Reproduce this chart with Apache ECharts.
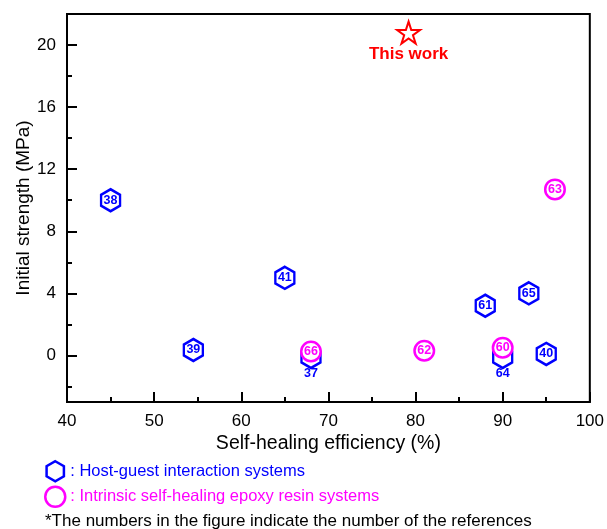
<!DOCTYPE html>
<html>
<head>
<meta charset="utf-8">
<script src="https://cdn.jsdelivr.net/npm/echarts@6/dist/echarts.min.js"></script>
<style>
  html, body { margin: 0; padding: 0; background: #fff; }
  #chart { width: 607px; height: 529px; }
</style>
</head>
<body>
<div id="chart"></div>
<script>
// host-guest interaction systems (hexagons)
var hostX = [45, 54.5, 65, 68, 88, 93, 90, 95];
var hostY = [10, 0.35, 5, -0.1, 3.2, 4, -0.1, 0.1];
var hostRefs = ['38', '39', '41', '37', '61', '65', '64', '40'];
var hostLabelBelow = ['37', '64'];

// intrinsic self-healing epoxy resin systems (circles)
var epoxyX = [68, 81, 90, 96];
var epoxyY = [0.25, 0.3, 0.5, 10.7];
var epoxyRefs = ['66', '62', '60', '63'];

// this work
var workX = [79.2];
var workY = [20.8];

var yLabels = [0, 4, 8, 12, 16, 20];
var yMinor = [-2, 2, 6, 10, 14, 18];

var BLUE = '#0000ff', PINK = '#ff00ff', RED = '#ff0000';
var FONT = 'Liberation Sans, Arial, sans-serif';
var HEX = 'path://M0,-1 L0.866,-0.5 L0.866,0.5 L0,1 L-0.866,0.5 L-0.866,-0.5 Z';
var STAR = 'path://M0,-1 L0.2245,-0.309 L0.951,-0.309 L0.363,0.118 L0.588,0.809 L0,0.382 L-0.588,0.809 L-0.363,0.118 L-0.951,-0.309 L-0.2245,-0.309 Z';

var chart = echarts.init(document.getElementById('chart'));

chart.setOption({
    animation: false,
    textStyle: { fontFamily: FONT },
    title: {
        text: '*The numbers in the figure indicate the number of the references',
        left: 45,
        top: 513,
        padding: 0,
        textStyle: { fontSize: 17, fontWeight: 'normal', color: '#000', fontFamily: FONT }
    },
    legend: {
        orient: 'vertical',
        left: 44,
        top: 460,
        padding: 0,
        itemWidth: 20,
        itemHeight: 20,
        itemGap: 3,
        textStyle: { fontSize: 16.5, fontFamily: FONT },
        data: [
            {
                name: ': Host-guest interaction systems',
                icon: HEX,
                itemStyle: { color: '#fff', borderColor: BLUE, borderWidth: 2.5 },
                textStyle: { color: BLUE }
            },
            {
                name: ': Intrinsic self-healing epoxy resin systems',
                icon: 'circle',
                itemStyle: { color: '#fff', borderColor: PINK, borderWidth: 2.5 },
                textStyle: { color: PINK }
            }
        ]
    },
    grid: {
        left: 67, right: 17, top: 14, bottom: 127,
        show: true,
        borderColor: '#000',
        borderWidth: 2
    },
    xAxis: {
        type: 'value',
        min: 40,
        max: 100,
        interval: 10,
        name: 'Self-healing efficiency (%)',
        nameLocation: 'middle',
        nameGap: 32,
        nameMoveOverlap: false,
        nameTextStyle: { fontSize: 19.5, color: '#000' },
        axisLine: { show: true, onZero: false, lineStyle: { color: '#000', width: 2 } },
        axisTick: { show: true, inside: true, length: 10, lineStyle: { color: '#000', width: 2 } },
        minorTick: { show: true, splitNumber: 2, length: 5, lineStyle: { color: '#000', width: 2 } },
        axisLabel: { fontSize: 17, color: '#000', margin: 11 },
        splitLine: { show: false }
    },
    yAxis: [
        {
            type: 'value',
            min: -3,
            max: 22,
            name: 'Initial strength (MPa)',
            nameLocation: 'middle',
            nameGap: 34,
            nameMoveOverlap: false,
            nameTextStyle: { fontSize: 19, color: '#000' },
            axisLine: { show: true, onZero: false, lineStyle: { color: '#000', width: 2 } },
            axisTick: { show: true, inside: true, length: 10, customValues: yLabels, lineStyle: { color: '#000', width: 2 } },
            axisLabel: { fontSize: 17, color: '#000', margin: 11, customValues: yLabels },
            splitLine: { show: false }
        },
        {
            type: 'value',
            min: -3,
            max: 22,
            position: 'left',
            axisLine: { show: false },
            axisTick: { show: true, inside: true, length: 5, customValues: yMinor, lineStyle: { color: '#000', width: 2 } },
            axisLabel: { show: false },
            splitLine: { show: false }
        }
    ],
    series: [
        {
            name: ': Host-guest interaction systems',
            type: 'scatter',
            symbol: HEX,
            symbolSize: [19, 22],
            itemStyle: { color: '#fff', borderColor: BLUE, borderWidth: 2.5, opacity: 1 },
            label: {
                show: true,
                position: 'inside',
                formatter: function (p) { return p.name; },
                color: BLUE,
                fontSize: 12.5,
                fontWeight: 'bold'
            },
            data: hostX.map(function (x, i) {
                var item = { name: hostRefs[i], value: [x, hostY[i]] };
                if (hostLabelBelow.indexOf(hostRefs[i]) >= 0) {
                    item.label = { position: 'bottom', distance: -2 };
                }
                return item;
            }),
            z: 2
        },
        {
            name: ': Intrinsic self-healing epoxy resin systems',
            type: 'scatter',
            symbol: 'circle',
            symbolSize: 19.5,
            itemStyle: { color: '#fff', borderColor: PINK, borderWidth: 2.5, opacity: 1 },
            label: {
                show: true,
                position: 'inside',
                formatter: function (p) { return p.name; },
                color: PINK,
                fontSize: 12.5,
                fontWeight: 'bold'
            },
            data: epoxyX.map(function (x, i) {
                return { name: epoxyRefs[i], value: [x, epoxyY[i]] };
            }),
            z: 3
        },
        {
            name: 'This work',
            type: 'scatter',
            symbol: STAR,
            symbolSize: [23, 22],
            itemStyle: { color: '#fff', borderColor: RED, borderWidth: 2, opacity: 1 },
            label: {
                show: true,
                position: 'bottom',
                distance: 1,
                formatter: 'This work',
                color: RED,
                fontSize: 17,
                fontWeight: 'bold'
            },
            data: workX.map(function (x, i) { return [x, workY[i]]; }),
            z: 4
        }
    ]
});
</script>
</body>
</html>
